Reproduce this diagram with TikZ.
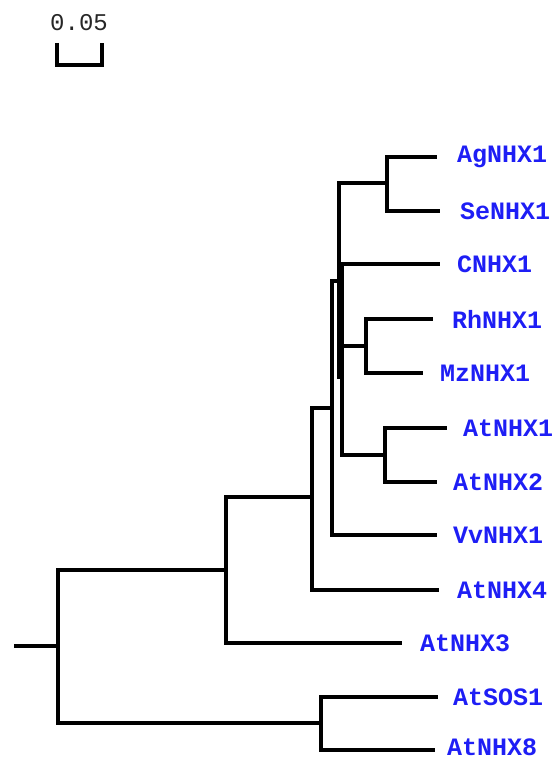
\documentclass[tikz,border=0pt]{standalone}
\usepackage{fontspec}
\newfontfamily\treefont{Liberation Mono}
\definecolor{taxblue}{RGB}{30,30,245}

\tikzset{
  branch/.style={line width=3.9pt, line join=miter},
  leaf/.style={font=\treefont\bfseries\fontsize{25}{25}\selectfont, text=taxblue, anchor=west, inner sep=0pt},
  scalelbl/.style={font=\treefont\fontsize{24}{24}\selectfont, text=black!85, anchor=west, inner sep=0pt}
}

\begin{document}
\begin{tikzpicture}[x=1pt, y=-1pt]
\useasboundingbox (0,0) rectangle (555,759);

% scale bar
\node[scalelbl] (sclbl) at (50,23) {0.05};
\coordinate (sca) at (57,43);
\coordinate (scb) at (102,43);
\coordinate (scm) at (80,65);
\draw[branch] (sca) |- (scm) -| (scb);

% internal nodes
\coordinate (root) at (14,646);
\coordinate (n1) at (58,646);
\coordinate (n2) at (226,570);
\coordinate (n3) at (312,497);
\coordinate (n4) at (332,408);
\coordinate (n5) at (339,281);
\coordinate (n6) at (387,183);
\coordinate (n7) at (342,377);
\coordinate (n8) at (366,346);
\coordinate (n9) at (321,723);
\coordinate (n10) at (385,455);

% branch tips
\coordinate (tAg) at (437,157);
\coordinate (tSe) at (440,211);
\coordinate (tC) at (440,264);
\coordinate (tRh) at (433,319);
\coordinate (tMz) at (423,373);
\coordinate (tAt1) at (447,428);
\coordinate (tAt2) at (437,482);
\coordinate (tVv) at (437,535);
\coordinate (tAt4) at (439,590);
\coordinate (tAt3) at (402,643);
\coordinate (tSos) at (438,697);
\coordinate (tAt8) at (435,750);

% leaves
\node[leaf] (AgNHX1) at (457,157) {AgNHX1};
\node[leaf] (SeNHX1) at (460,211) {SeNHX1};
\node[leaf] (CNHX1) at (457,264) {CNHX1};
\node[leaf] (RhNHX1) at (452,319) {RhNHX1};
\node[leaf] (MzNHX1) at (440,373) {MzNHX1};
\node[leaf] (AtNHX1) at (463,428) {AtNHX1};
\node[leaf] (AtNHX2) at (453,482) {AtNHX2};
\node[leaf] (VvNHX1) at (453,535) {VvNHX1};
\node[leaf] (AtNHX4) at (457,590) {AtNHX4};
\node[leaf] (AtNHX3) at (420,643) {AtNHX3};
\node[leaf] (AtSOS1) at (453,697) {AtSOS1};
\node[leaf] (AtNHX8) at (447,747) {AtNHX8};

% branches
\draw[branch] (root) -- (n1);
\draw[branch] (n1) |- (n2);  \draw[branch] (n1) |- (n9);
\draw[branch] (n2) |- (n3);  \draw[branch] (n2) |- (tAt3);
\draw[branch] (n3) |- (n4);  \draw[branch] (n3) |- (tAt4);
\draw[branch] (n4) |- (n5);  \draw[branch] (n4) |- (tVv);
\draw[branch] (n5) |- (n6);  \draw[branch] (n5) |- (n7);
\draw[branch] (n6) |- (tAg); \draw[branch] (n6) |- (tSe);
\draw[branch] (n7) |- (tC);  \draw[branch] (n7) |- (n8);  \draw[branch] (n7) |- (n10);
\draw[branch] (n8) |- (tRh); \draw[branch] (n8) |- (tMz);
\draw[branch] (n10) |- (tAt1); \draw[branch] (n10) |- (tAt2);
\draw[branch] (n9) |- (tSos); \draw[branch] (n9) |- (tAt8);
\end{tikzpicture}
\end{document}
